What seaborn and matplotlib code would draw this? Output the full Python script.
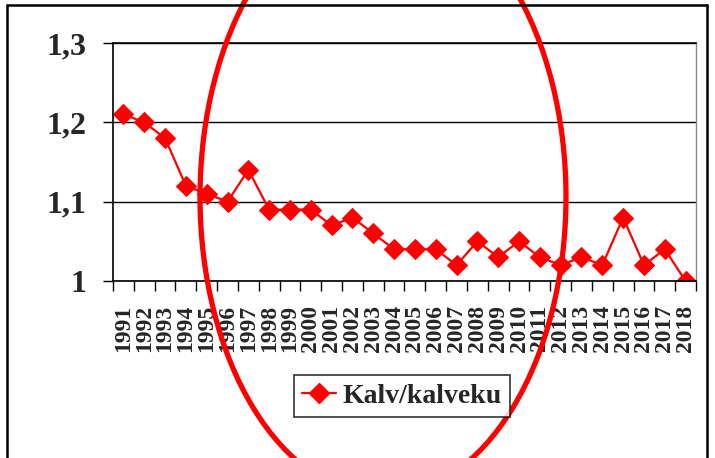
import numpy as np
import pandas as pd
import matplotlib
matplotlib.use("Agg")
import matplotlib.pyplot as plt
import seaborn as sns
from matplotlib.patches import Ellipse
from matplotlib.lines import Line2D

# --------------------------
# Data
# --------------------------
years = [str(y) for y in range(1991, 2019)]
values = [1.21, 1.20, 1.18, 1.12, 1.11, 1.10, 1.14, 1.09, 1.09, 1.09,
          1.07, 1.08, 1.06, 1.04, 1.04, 1.04, 1.02, 1.05, 1.03, 1.05,
          1.03, 1.02, 1.03, 1.02, 1.08, 1.02, 1.04, 1.00]
series_name = "Kalv/kalveku"
y_ticks = [1.0, 1.1, 1.2, 1.3]
y_tick_labels = ["1", "1,1", "1,2", "1,3"]

df = pd.DataFrame({"pos": np.arange(len(years)), "value": values})

# --------------------------
# Style
# --------------------------
sns.set_theme(style="white")
plt.rcParams["font.family"] = ["Liberation Serif", "DejaVu Serif"]
plt.rcParams["font.weight"] = "bold"

W, H = 715, 458
fig = plt.figure(figsize=(W / 100, H / 100), dpi=100)
ax = fig.add_axes([113 / W, 1 - 281 / H, (696 - 113) / W, (281 - 43) / H])

sns.lineplot(data=df, x="pos", y="value", ax=ax, color="#ff0000",
             marker="D", markersize=10.5, markeredgecolor="#ff0000",
             linewidth=1.6, label=series_name, legend=False)

# --------------------------
# Axes
# --------------------------
ax.set_xlim(-0.5, len(years) - 0.5)
ax.set_ylim(1.0, 1.3)
ax.set_xlabel("")
ax.set_ylabel("")

ax.set_yticks(y_ticks)
ax.set_yticklabels(y_tick_labels, fontsize=23, fontweight="bold")
ax.tick_params(axis="y", direction="out", length=7, width=1, color="black", pad=12, left=True)
ax.yaxis.grid(True, color="black", linewidth=1)
ax.set_axisbelow(True)

ax.set_xticks(np.arange(len(years)))
ax.set_xticklabels(years, rotation=90, fontsize=17, fontweight="bold")
ax.set_xticks(np.arange(len(years) + 1) - 0.5, minor=True)
ax.tick_params(axis="x", which="major", length=0, pad=17)
ax.tick_params(axis="x", which="minor", direction="out", length=7, width=1, color="black", bottom=True)

for side in ["left", "bottom", "top"]:
    ax.spines[side].set_color("black")
    ax.spines[side].set_linewidth(1.2)
ax.spines["right"].set_color("#888888")
ax.spines["right"].set_linewidth(1)

# --------------------------
# Legend
# --------------------------
handle = Line2D([], [], color="#ff0000", marker="D", markersize=10.5, linewidth=1.6)
leg = fig.legend([handle], [series_name], loc="center",
                 bbox_to_anchor=(402 / W, 1 - 396 / H),
                 prop={"family": "Liberation Serif", "weight": "bold", "size": 20},
                 frameon=True, fancybox=False, edgecolor="black",
                 handlelength=1.2, handletextpad=0.25, borderpad=0.3,
                 borderaxespad=0)
leg.get_frame().set_linewidth(1.2)

# --------------------------
# Outer frame and red ellipse overlay
# --------------------------
fig.add_artist(Line2D([7 / W, 7 / W], [0, 1 - 5 / H], transform=fig.transFigure, color="black", linewidth=1.8))
fig.add_artist(Line2D([7 / W, 707 / W], [1 - 5 / H, 1 - 5 / H], transform=fig.transFigure, color="black", linewidth=1.8))
fig.add_artist(Line2D([707 / W, 707 / W], [0, 1 - 5 / H], transform=fig.transFigure, color="black", linewidth=1.8))

fig.add_artist(Ellipse((383 / W, 1 - 197 / H), 366 / W, 598 / H,
                       transform=fig.transFigure, fill=False,
                       edgecolor="#ff0000", linewidth=3.8))

fig.savefig("out.png", dpi=100)
